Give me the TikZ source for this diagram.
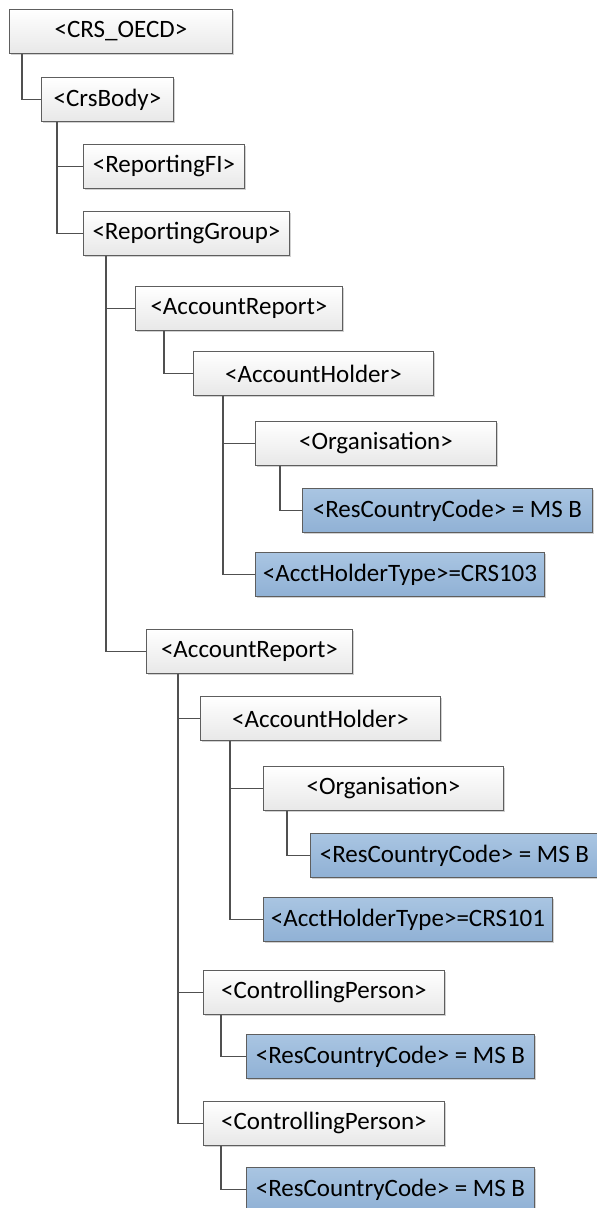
\documentclass[tikz,border=0pt]{standalone}
\usepackage{fontspec}
\setmainfont{Carlito}
\usetikzlibrary{shadows}
\definecolor{boxline}{HTML}{5E5E5E}
\definecolor{boxbottom}{HTML}{E8E8E8}
\definecolor{bluetop}{HTML}{A9C5E2}
\definecolor{bluebottom}{HTML}{90B1D5}
\definecolor{linegray}{HTML}{505050}
\begin{document}
\begin{tikzpicture}
[x=1pt,y=-1pt,
 plainbox/.style={shape=rectangle,anchor=north west,draw=boxline,line width=0.9pt,
   top color=white,bottom color=boxbottom,inner sep=0pt,minimum height=44pt,
   drop shadow={shadow xshift=1.5pt,shadow yshift=-1.5pt,opacity=.3,fill=black!60},
   font=\fontsize{25}{27}\selectfont},%
 valuebox/.style={plainbox,top color=bluetop,bottom color=bluebottom},%
 linedecorate/.style={-,line width=1.3pt,draw=linegray}]
\useasboundingbox (0,0) rectangle (597,1208);
%% nodes or vertices
\foreach \nodename/\look/\x/\y/\w/\txt in {
  oecd/plainbox/9/9/223/<CRS\_OECD>,
  body/plainbox/41/77/132/<CrsBody>,
  fi/plainbox/83/144/161/<ReportingFI>,
  group/plainbox/83/211/206/<ReportingGroup>,
  arone/plainbox/135/286/207/<AccountReport>,
  ahone/plainbox/193/351/240/<AccountHolder>,
  orgone/plainbox/255/421/241/<Organisation>,
  rccone/valuebox/302/488/290/<ResCountryCode> = MS B,
  typeone/valuebox/255/552/289/<AcctHolderType>=CRS103,
  artwo/plainbox/146/629/206/<AccountReport>,
  ahtwo/plainbox/200/696/240/<AccountHolder>,
  orgtwo/plainbox/263/766/240/<Organisation>,
  rcctwo/valuebox/310/833/288/<ResCountryCode> = MS B,
  typetwo/valuebox/263/897/289/<AcctHolderType>=CRS101,
  cpone/plainbox/203/970/241/<ControllingPerson>,
  rccthree/valuebox/246/1034/288/<ResCountryCode> = MS B,
  cptwo/plainbox/203/1101/241/<ControllingPerson>,
  rccfour/valuebox/246/1167/288/<ResCountryCode> = MS B} {
  \node (\nodename) at (\x,\y) [\look,minimum width=\w pt] {\txt};
}
%% edges or lines
\foreach \startnode/\endnode/\d in {oecd/body/13, body/fi/16, body/group/16,
  group/arone/23, arone/ahone/29, ahone/orgone/30, orgone/rccone/25, ahone/typeone/30,
  group/artwo/23, artwo/ahtwo/32, ahtwo/orgtwo/30, orgtwo/rcctwo/24, ahtwo/typetwo/30,
  artwo/cpone/32, cpone/rccthree/18, artwo/cptwo/32, cptwo/rccfour/18} {
  \draw[linedecorate] ([xshift=\d pt]\startnode.south west) |- (\endnode.west);
}
\end{tikzpicture}
\end{document}
